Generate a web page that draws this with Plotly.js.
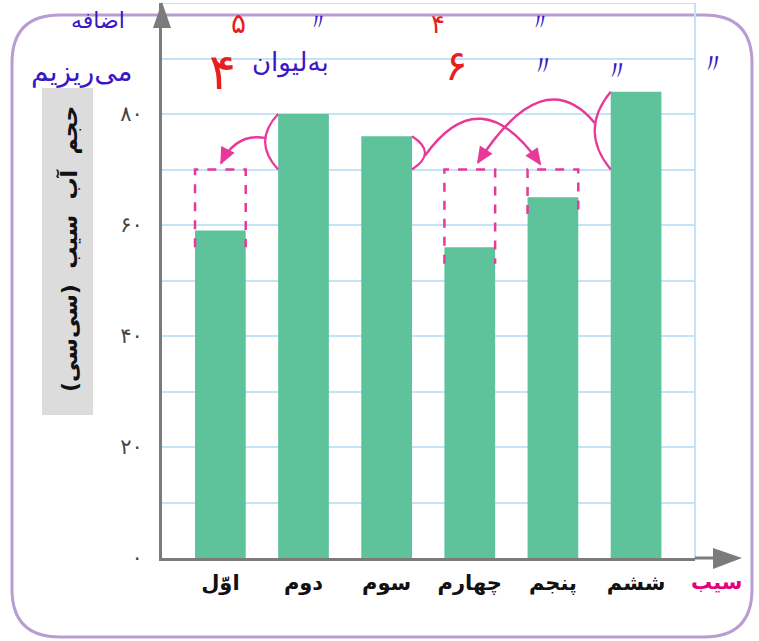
<!DOCTYPE html>
<html>
<head>
<meta charset="utf-8">
<script src="https://cdn.plot.ly/plotly-3.0.1.min.js"></script>
<style>
html,body{margin:0;padding:0;background:#fff;}
#chart{width:759px;height:641px;}
</style>
</head>
<body>
<div id="chart"></div>
<script>
// ---- data ----
const categories = ['اوّل', 'دوم', 'سوم', 'چهارم', 'پنجم', 'ششم'];
const volumes = [59, 80, 76, 56, 65, 84];
const averageVolume = 70;
const yTickValues = [0, 10, 20, 30, 40, 50, 60, 70, 80, 90, 100];
const yTickLabels = ['۰', '', '۲۰', '', '۴۰', '', '۶۰', '', '۸۰', '', ''];
const yTitleText = 'حجم  آب  سیب  (سی‌سی)';
const xTitleText = 'سیب';
// which glass pours into which (from, to)
const pours = [[1, 0], [2, 4], [5, 3]];
const fillTargets = [0, 3, 4];

// ---- geometry ----
const W = 759, H = 641;
const M = {l: 162, r: 64, t: 3, b: 83};
const plotW = W - M.l - M.r, plotH = H - M.t - M.b;
const xRange = [-0.702, 5.709], yRange = [0, 100];
const barW = 0.61;
const pink = '#e8399b', blue = '#3a16c6', red = '#e8201d';

const px = x => (x - M.l) / plotW;
const py = y => (H - M.b - y) / plotH;
const d2px = v => M.l + (v - xRange[0]) / (xRange[1] - xRange[0]) * plotW;
const d2py = v => H - M.b - (v - yRange[0]) / (yRange[1] - yRange[0]) * plotH;
const px2d = p => xRange[0] + (p - M.l) / plotW * (xRange[1] - xRange[0]);
const py2d = p => yRange[0] + (H - M.b - p) / plotH * (yRange[1] - yRange[0]);

const xs = categories.map((c, i) => i);

const shapes = [];

// purple rounded frame
(function () {
  const x0 = px(12), x1 = px(752), y0 = py(637), y1 = py(15);
  const rx = 48 / plotW, ry = 48 / plotH;
  const p = `M ${x0 + rx},${y1} L ${x1 - rx},${y1} Q ${x1},${y1} ${x1},${y1 - ry} L ${x1},${y0 + ry} Q ${x1},${y0} ${x1 - rx},${y0} L ${x0 + rx},${y0} Q ${x0},${y0} ${x0},${y0 + ry} L ${x0},${y1 - ry} Q ${x0},${y1} ${x0 + rx},${y1} Z`;
  shapes.push({type: 'path', xref: 'paper', yref: 'paper', path: p, line: {color: '#b89dd2', width: 3}, layer: 'below'});
})();

// grey background of y title
shapes.push({type: 'rect', xref: 'paper', yref: 'paper', x0: px(42), x1: px(93), y0: py(415), y1: py(88),
  fillcolor: '#dcdcdc', line: {width: 0}, layer: 'below'});

// top grid line and right border line of the grid
shapes.push({type: 'line', xref: 'paper', yref: 'y', x0: 0, x1: 1, y0: 100, y1: 100, line: {color: '#c3e4f6', width: 2}, layer: 'below'});
shapes.push({type: 'line', xref: 'paper', yref: 'paper', x0: 1, x1: 1, y0: 0, y1: 1, line: {color: '#c3e4f6', width: 2}, layer: 'below'});

// axis arrows
const axisGrey = '#7b7b7b';
shapes.push({type: 'path', xref: 'paper', yref: 'paper',
  path: `M ${px(153)},${py(28)} L ${px(162)},${py(2)} L ${px(171)},${py(28)} Z`, fillcolor: axisGrey, line: {width: 0}});
shapes.push({type: 'line', xref: 'paper', yref: 'paper', x0: 1, x1: px(716), y0: 0, y1: 0, line: {color: axisGrey, width: 3}});
shapes.push({type: 'path', xref: 'paper', yref: 'paper',
  path: `M ${px(713)},${py(548)} L ${px(742)},${py(558)} L ${px(713)},${py(569)} Z`, fillcolor: axisGrey, line: {width: 0}});

// dashed boxes showing the missing part up to the average
fillTargets.forEach(i => {
  const a = i - barW / 2, b = i + barW / 2, lo = volumes[i] - 3;
  shapes.push({type: 'path', xref: 'x', yref: 'y',
    path: `M ${a},${lo} L ${a},${averageVolume} L ${b},${averageVolume} L ${b},${lo}`,
    line: {color: pink, width: 2.5, dash: 'dash'}, layer: 'above'});
});

// brackets around the extra part and curved arrows
function bracket(i, side, bulgePx) {
  const edge = i + side * barW / 2;
  const bulge = side * bulgePx / plotW * (xRange[1] - xRange[0]);
  const cx = edge + 2 * bulge;
  const cy = (volumes[i] + averageVolume) / 2;
  shapes.push({type: 'path', xref: 'x', yref: 'y',
    path: `M ${edge},${volumes[i]} Q ${cx},${cy} ${edge},${averageVolume}`,
    line: {color: pink, width: 2.2}, layer: 'above'});
  return edge + bulge;
}
function arrow(sx, sy, cx, cy, ex, ey) {
  shapes.push({type: 'path', xref: 'x', yref: 'y',
    path: `M ${sx},${sy} Q ${cx},${cy} ${ex},${ey}`, line: {color: pink, width: 2.5}, layer: 'above'});
  // arrow head in pixel space
  const EX = d2px(ex), EY = d2py(ey), CX = d2px(cx), CY = d2py(cy);
  let ux = EX - CX, uy = EY - CY; const n = Math.hypot(ux, uy); ux /= n; uy /= n;
  const L = 15, hw = 7.5;
  const bx = EX - ux * L, by = EY - uy * L;
  const p1 = [bx - uy * hw, by + ux * hw], p2 = [bx + uy * hw, by - ux * hw];
  shapes.push({type: 'path', xref: 'x', yref: 'y',
    path: `M ${px2d(EX + ux * 2)},${py2d(EY + uy * 2)} L ${px2d(p1[0])},${py2d(p1[1])} L ${px2d(p2[0])},${py2d(p2[1])} Z`,
    fillcolor: pink, line: {width: 0}, layer: 'above'});
}
// pour 1: second -> first
(function () {
  const [f, t] = pours[0];
  const sx = bracket(f, -1, 13);
  arrow(sx, 75.7, t + 0.19, 76.6, t + 0.01, averageVolume + 1.2);
})();
// pour 2: third -> fifth
(function () {
  const [f, t] = pours[1];
  const sx = bracket(f, 1, 13);
  arrow(sx, 72.5, 3.13, 86.5, t - 0.155, averageVolume + 1.0);
})();
// pour 3: sixth -> fourth
(function () {
  const [f, t] = pours[2];
  const sx = bracket(f, -1, 16);
  arrow(sx, 78.4, 3.88, 89.5, t + 0.1, averageVolume + 1.3);
})();

const annotations = [];
// y title
annotations.push({xref: 'paper', yref: 'paper', x: px(68), y: py(249), text: '<b>' + yTitleText + '</b>',
  textangle: -90, showarrow: false, font: {family: 'DejaVu Sans', size: 22, color: '#111'}, xanchor: 'center', yanchor: 'middle'});
// x title
annotations.push({xref: 'paper', yref: 'paper', x: px(716), y: py(582), text: '<b>' + xTitleText + '</b>',
  showarrow: false, font: {family: 'DejaVu Sans', size: 21, color: '#e6007e'}, xanchor: 'center', yanchor: 'middle'});

// handwritten notes
function note(text, x, y, size, color) {
  annotations.push({xref: 'paper', yref: 'paper', x: px(x), y: py(y), text: text, showarrow: false,
    font: {family: 'DejaVu Sans', size: size, color: color}, xanchor: 'center', yanchor: 'middle'});
}
note('اضافه', 98, 20, 22, blue);
note('می‌ریزیم', 82, 72, 28, blue);
note('۵', 238, 24, 28, red);
note('۴', 222, 72, 50, red);
note('به‌لیوان', 290, 62, 26, blue);
note('۴', 438, 24, 26, red);
note('〃', 318, 22, 24, blue);
note('۶', 456, 66, 42, red);
note('〃', 540, 22, 24, blue);
note('〃', 543, 66, 28, blue);
note('〃', 617, 70, 28, blue);
note('〃', 713, 63, 28, blue);

const trace = {
  type: 'bar', x: xs, y: volumes, width: barW,
  marker: {color: '#5ec29b', line: {width: 0}},
  hoverinfo: 'none'
};

const layout = {
  width: W, height: H,
  margin: M,
  paper_bgcolor: '#ffffff', plot_bgcolor: '#ffffff',
  showlegend: false,
  xaxis: {
    range: xRange, tickvals: xs, ticktext: categories, showgrid: false, zeroline: false,
    showline: true, linecolor: axisGrey, linewidth: 3, ticks: '', ticklabelstandoff: 4,
    tickfont: {family: 'DejaVu Sans', size: 21, color: '#111', weight: 'bold'}
  },
  yaxis: {
    range: yRange, tickvals: yTickValues, ticktext: yTickLabels, showgrid: true,
    gridcolor: '#c3e4f6', gridwidth: 2, zeroline: false,
    showline: true, linecolor: axisGrey, linewidth: 3, ticks: '', ticklabelstandoff: 12,
    tickfont: {family: 'DejaVu Sans', size: 21, color: '#444'}
  },
  shapes: shapes,
  annotations: annotations
};

Plotly.newPlot('chart', [trace], layout, {staticPlot: true, displayModeBar: false});
</script>
</body>
</html>
